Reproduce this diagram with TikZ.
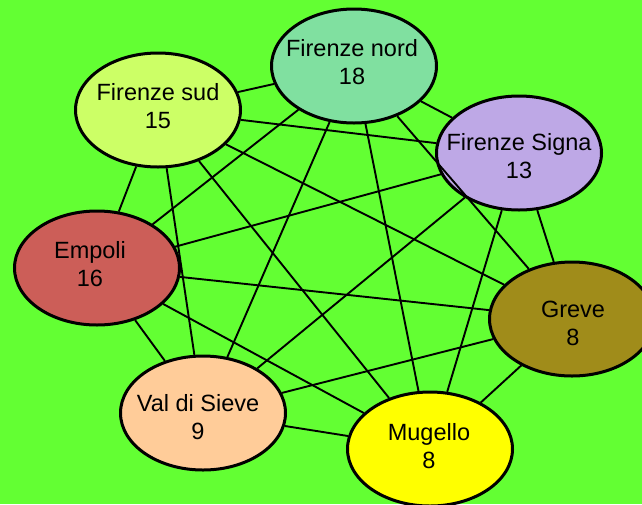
\documentclass[tikz,border=0pt]{standalone}
\usepackage{fontspec}
\setmainfont{Liberation Sans}
\usetikzlibrary{shapes.geometric}
\definecolor{bg}{RGB}{99,255,51}
\definecolor{csud}{RGB}{204,255,102}
\definecolor{cnord}{RGB}{128,224,160}
\definecolor{csigna}{RGB}{190,168,230}
\definecolor{cempoli}{RGB}{204,94,88}
\definecolor{csieve}{RGB}{255,204,153}
\definecolor{cgreve}{RGB}{160,140,26}
\definecolor{cmugello}{RGB}{255,255,0}
\tikzset{
  city/.style={ellipse, draw=black, line width=3pt, minimum width=165pt, minimum height=114pt, inner sep=0pt},
  citytext/.style={align=center, inner sep=0pt, font=\fontsize{23.5}{28}\selectfont},
  link/.style={draw=black, line width=1.9pt}
}
\begin{document}
\begin{tikzpicture}[x=1pt,y=-1pt]
\fill[bg] (0,0) rectangle (642,504);
\useasboundingbox (0,0) rectangle (642,504);
\node[city, fill=csud]    (sud)   at (158,110) {};
\node[city, fill=cnord]   (nord)  at (354,66)  {};
\node[city, fill=csigna]  (signa) at (519,153) {};
\node[city, fill=cempoli] (emp)   at (97,268)  {};
\node[city, fill=csieve]  (sieve) at (203,413) {};
\node[city, fill=cgreve]  (greve) at (572,319) {};
\node[city, fill=cmugello](mug)   at (430,449) {};
\node[citytext] (tsud)   at (158,106) {Firenze sud\\15};
\node[citytext] (tnord)  at (352,62)  {Firenze nord\\18};
\node[citytext] (tsigna) at (519,156) {Firenze Signa\\13};
\node[citytext] (temp)   at (90,264)  {Empoli\\16};
\node[citytext] (tsieve) at (198,417) {Val di Sieve\\9};
\node[citytext] (tgreve) at (573,323) {Greve\\8};
\node[citytext] (tmug)   at (429,446) {Mugello\\8};
\foreach \a/\b in {sud/nord, sud/signa, sud/emp, sud/sieve, sud/greve, sud/mug,
                   nord/signa, nord/emp, nord/sieve, nord/greve, nord/mug,
                   signa/emp, signa/sieve, signa/greve, signa/mug,
                   emp/sieve, emp/greve, emp/mug,
                   sieve/greve, sieve/mug,
                   greve/mug}
  \draw[link] (\a) -- (\b);
\end{tikzpicture}
\end{document}
